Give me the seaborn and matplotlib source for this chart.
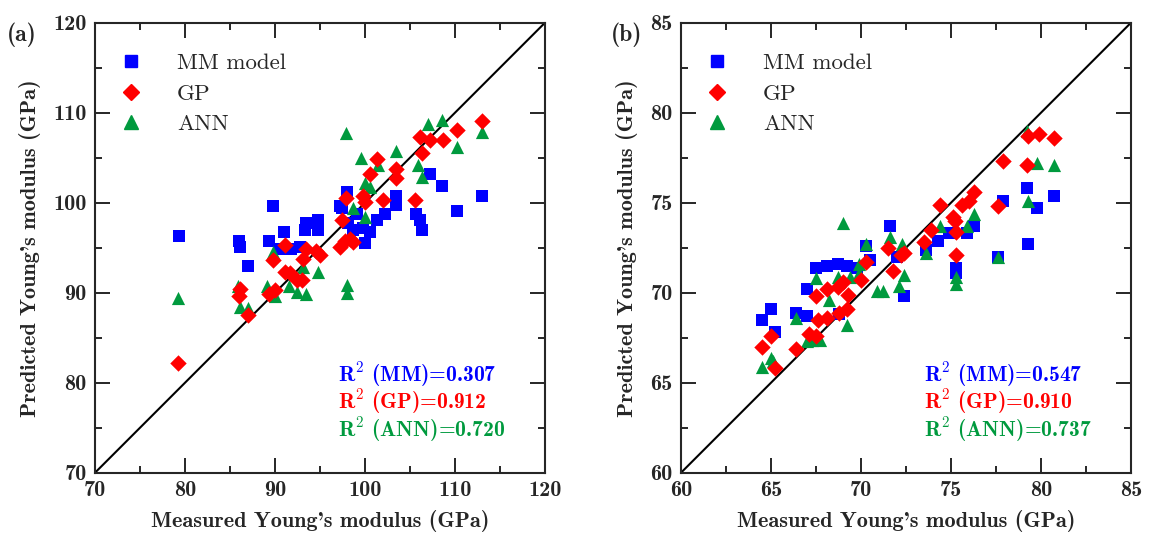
import matplotlib
matplotlib.use("Agg")
import matplotlib.pyplot as plt
from matplotlib.lines import Line2D
from matplotlib.font_manager import FontProperties
import seaborn as sns
import pandas as pd

# panel (a)
a_mm_x = [79.3, 86.0, 86.1, 87.0, 89.8, 89.3, 91.0, 90.4, 91.8, 92.8, 93.3, 93.5, 94.8, 94.8, 97.4, 98.0,
          99.1, 98.1, 98.7, 99.8, 100.6, 100.0, 101.3, 102.2, 103.4, 103.5, 105.7, 106.1, 106.3, 107.2,
          108.6, 110.2, 113.0, 97.2]
a_mm_y = [96.3, 95.7, 95.1, 93.0, 99.6, 95.7, 96.8, 94.9, 94.9, 95.1, 97.0, 97.7, 98.1, 97.0, 99.4, 101.2,
          98.8, 97.7, 97.0, 97.2, 96.8, 95.5, 98.1, 98.8, 100.7, 99.7, 98.8, 98.1, 97.0, 103.2,
          101.9, 99.1, 100.7, 99.6]
a_gp_x = [79.2, 86.1, 86.0, 87.0, 89.3, 90.0, 89.8, 91.1, 91.1, 91.7, 92.4, 93.0, 93.1, 93.5, 94.6, 95.0,
          97.2, 97.8, 98.3, 98.7, 97.4, 97.9, 99.8, 100.0, 100.6, 101.3, 102.0, 103.5, 103.5, 105.6,
          106.3, 106.1, 107.2, 108.7, 110.2, 113.0]
a_gp_y = [82.2, 90.4, 89.6, 87.5, 89.9, 90.3, 93.6, 95.3, 92.3, 92.2, 91.4, 91.4, 93.8, 94.9, 94.6, 94.2,
          95.1, 95.7, 96.0, 95.6, 98.1, 100.5, 100.7, 100.1, 103.2, 104.9, 100.3, 103.7, 102.7, 100.3,
          105.5, 107.3, 107.0, 107.0, 108.1, 109.1]
a_ann_x = [79.2, 85.9, 86.1, 87.0, 89.1, 90.0, 89.8, 91.5, 92.4, 93.5, 93.1, 94.8, 97.9, 98.0, 98.0, 98.7,
           100.0, 100.0, 100.6, 99.6, 101.5, 103.5, 105.9, 106.3, 107.0, 108.6, 110.2, 113.0]
a_ann_y = [89.4, 90.7, 88.4, 88.3, 90.7, 89.6, 94.5, 90.7, 90.1, 89.9, 92.9, 92.3, 107.7, 90.9, 90.0, 99.4,
           98.4, 102.2, 101.8, 105.0, 104.2, 105.7, 104.2, 102.9, 108.8, 109.2, 106.2, 107.9]

# panel (b)
b_mm_x = [64.5, 65.0, 65.2, 66.4, 67.0, 67.0, 67.5, 68.1, 68.7, 69.2, 69.8, 70.3, 70.5, 68.8, 69.7, 71.6,
          72.4, 72.0, 73.6, 74.3, 74.9, 75.9, 76.3, 75.3, 75.3, 77.9, 77.6, 79.2, 79.3, 79.8, 80.7]
b_mm_y = [68.5, 69.1, 67.8, 68.9, 68.7, 70.2, 71.4, 71.5, 71.6, 71.5, 71.4, 72.6, 71.8, 68.8, 71.4, 73.7,
          69.8, 72.0, 72.4, 72.9, 73.3, 73.3, 73.7, 71.4, 71.1, 75.1, 72.0, 75.8, 72.7, 74.7, 75.4]
b_gp_x = [64.5, 65.0, 65.2, 66.4, 67.1, 67.5, 67.6, 68.1, 67.5, 68.1, 68.7, 69.0, 69.3, 68.8, 69.2, 70.0,
          70.3, 71.5, 71.8, 72.2, 72.4, 73.5, 73.9, 74.4, 75.1, 75.3, 75.2, 75.3, 75.6, 76.0, 76.3, 77.6,
          77.9, 79.2, 79.3, 79.9, 80.7]
b_gp_y = [67.0, 67.6, 65.8, 66.9, 67.7, 67.6, 68.5, 68.6, 69.8, 70.2, 70.3, 70.6, 69.9, 68.9, 69.1, 70.7,
          71.7, 72.5, 71.2, 72.1, 72.2, 72.8, 73.5, 74.9, 74.2, 73.4, 74.0, 72.1, 74.9, 75.1, 75.6, 74.8,
          77.3, 77.1, 78.7, 78.8, 78.6]
b_ann_x = [64.5, 65.0, 65.1, 66.4, 67.0, 67.3, 67.7, 67.5, 68.2, 68.7, 69.4, 69.9, 69.2, 70.3, 69.0, 71.6,
           72.3, 69.9, 72.4, 72.1, 71.2, 70.9, 73.6, 74.4, 75.9, 76.3, 75.3, 75.3, 77.6, 79.3, 79.8, 80.7, 79.2]
b_ann_y = [65.9, 66.4, 66.2, 68.6, 67.3, 67.4, 67.4, 70.8, 69.6, 70.9, 70.9, 71.1, 68.2, 72.7, 73.9, 73.1,
           72.7, 71.6, 71.0, 70.4, 70.1, 70.1, 72.2, 73.7, 73.7, 74.4, 70.9, 70.5, 72.0, 75.1, 77.2, 77.1, 79.0]

r2_a = ["0.307", "0.912", "0.720"]
r2_b = ["0.547", "0.910", "0.737"]

blue = "#0000ff"
red = "#ff0000"
green = "#009a3e"

sns.set_style("ticks")
plt.rcParams["font.family"] = ["cmb10", "DejaVu Serif"]
plt.rcParams["mathtext.fontset"] = "cm"
plt.rcParams["axes.unicode_minus"] = False

fig = plt.figure(figsize=(11.49, 5.37), dpi=100)
ax_a = fig.add_axes([0.0827, 0.1197, 0.3916, 0.838])
ax_b = fig.add_axes([0.5927, 0.1197, 0.3916, 0.838])


def panel(ax, mm, gp, ann, lim, major, minor, r2, tag, tag_x):
    df_mm = pd.DataFrame({"x": mm[0], "y": mm[1]})
    df_gp = pd.DataFrame({"x": gp[0], "y": gp[1]})
    df_ann = pd.DataFrame({"x": ann[0], "y": ann[1]})
    ax.plot(lim, lim, color="black", lw=1.5, zorder=1)
    sns.scatterplot(data=df_mm, x="x", y="y", ax=ax, marker="s", color=blue, s=75, linewidth=0, zorder=2)
    sns.scatterplot(data=df_ann, x="x", y="y", ax=ax, marker="^", color=green, s=90, linewidth=0, zorder=3)
    sns.scatterplot(data=df_gp, x="x", y="y", ax=ax, marker="D", color=red, s=70, linewidth=0, zorder=4)
    ax.set_xlim(lim)
    ax.set_ylim(lim)
    ticks = list(range(lim[0], lim[1] + 1, major))
    ax.set_xticks(ticks)
    ax.set_yticks(ticks)
    ax.set_xticks([t + minor for t in ticks[:-1]], minor=True)
    ax.set_yticks([t + minor for t in ticks[:-1]], minor=True)
    ax.tick_params(which="both", direction="in", top=True, right=True, width=1.4, labelsize=16, pad=6)
    ax.tick_params(which="major", length=10.5)
    ax.tick_params(which="minor", length=5)
    for sp in ax.spines.values():
        sp.set_linewidth(1.5)
    ax.set_xlabel("Measured Young's modulus (GPa)", fontsize=16, labelpad=7)
    ax.set_ylabel("Predicted Young's modulus (GPa)", fontsize=16, labelpad=9)

    handles = [
        Line2D([], [], ls="", marker="s", color=blue, markersize=9),
        Line2D([], [], ls="", marker="D", color=red, markersize=8.5),
        Line2D([], [], ls="", marker="^", color=green, markersize=10),
    ]
    ax.legend(handles, ["MM model", "GP", "ANN"], loc="upper left", frameon=False,
              prop=FontProperties(family="cmr10", size=16.5), handlelength=1.0, handletextpad=1.5,
              borderpad=0, borderaxespad=0, labelspacing=0.45, bbox_to_anchor=(0.055, 0.932))

    names = ["MM", "GP", "ANN"]
    cols = [blue, red, green]
    ys = [0.217, 0.157, 0.096]
    for n, v, c, yy in zip(names, r2, cols, ys):
        ax.text(0.54, yy, r"R$^{\mathbf{2}}$ (" + n + ")=" + v, transform=ax.transAxes,
                color=c, fontsize=15.5, va="center", ha="left")
    fig.text(tag_x, 0.935, tag, fontsize=17, va="center", ha="left")


panel(ax_a, (a_mm_x, a_mm_y), (a_gp_x, a_gp_y), (a_ann_x, a_ann_y), (70, 120), 10, 5, r2_a, "(a)", 0.006)
panel(ax_b, (b_mm_x, b_mm_y), (b_gp_x, b_gp_y), (b_ann_x, b_ann_y), (60, 85), 5, 2.5, r2_b, "(b)", 0.532)

fig.savefig("out.png", dpi=100)
